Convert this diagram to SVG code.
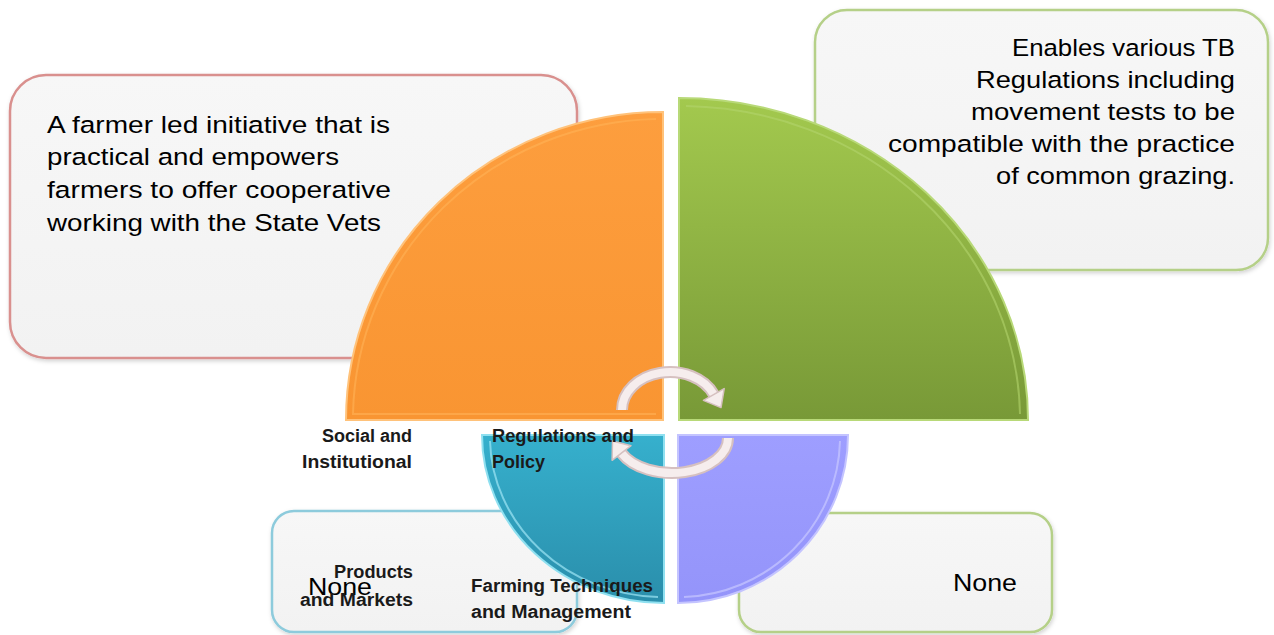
<svg xmlns="http://www.w3.org/2000/svg" width="1274" height="635" viewBox="0 0 1274 635">
<defs>
<linearGradient id="gBox" x1="0" y1="0" x2="0" y2="1"><stop offset="0" stop-color="#f7f7f7"/><stop offset="1" stop-color="#f2f2f2"/></linearGradient>
<linearGradient id="gOrange" x1="0" y1="0" x2="0" y2="1"><stop offset="0" stop-color="#fd9e3e"/><stop offset="1" stop-color="#f99532"/></linearGradient>
<linearGradient id="gGreen" x1="0" y1="0" x2="0" y2="1"><stop offset="0" stop-color="#a3c94e"/><stop offset="1" stop-color="#789937"/></linearGradient>
<linearGradient id="gBlue" x1="0" y1="0" x2="0" y2="1"><stop offset="0" stop-color="#36b0cd"/><stop offset="1" stop-color="#2a8eab"/></linearGradient>
<linearGradient id="gPurple" x1="0" y1="0" x2="0" y2="1"><stop offset="0" stop-color="#9e9eff"/><stop offset="1" stop-color="#9494fa"/></linearGradient>
<filter id="sh" x="-5%" y="-5%" width="110%" height="115%"><feDropShadow dx="1" dy="2" stdDeviation="2" flood-color="#000" flood-opacity="0.18"/></filter>
<style>
.box{fill:url(#gBox);stroke-width:2.5;filter:url(#sh)}
.txt{font-family:"Liberation Sans",Arial,sans-serif;font-size:24.5px;fill:#000}
.lbl{font-family:"Liberation Sans",Arial,sans-serif;font-size:18px;font-weight:bold;fill:#1a1a1a}
.arc{fill:none;stroke:#d6c0c0;stroke-width:12}
.arcIn{fill:none;stroke:#f6eded;stroke-width:8}
.head{fill:#f6eded;stroke:#d6c0c0;stroke-width:1.5;stroke-linejoin:round}
</style>
</defs>
<rect width="1274" height="635" fill="#ffffff"/>

<g id="box-social">
<rect class="box" x="10" y="75" width="567" height="283" rx="36" stroke="#d9908e"/>
<text class="txt" x="47" y="133" textLength="343" lengthAdjust="spacingAndGlyphs">A farmer led initiative that is</text>
<text class="txt" x="47" y="165" textLength="292" lengthAdjust="spacingAndGlyphs">practical and empowers</text>
<text class="txt" x="47" y="198" textLength="344" lengthAdjust="spacingAndGlyphs">farmers to offer cooperative</text>
<text class="txt" x="47" y="231" textLength="334" lengthAdjust="spacingAndGlyphs">working with the State Vets</text>
</g>

<g id="box-regulations">
<rect class="box" x="815" y="10" width="453" height="260" rx="32" stroke="#b5d088"/>
<text class="txt" x="1235" y="56" text-anchor="end" textLength="223" lengthAdjust="spacingAndGlyphs">Enables various TB</text>
<text class="txt" x="1235" y="88" text-anchor="end" textLength="259" lengthAdjust="spacingAndGlyphs">Regulations including</text>
<text class="txt" x="1235" y="120" text-anchor="end" textLength="264" lengthAdjust="spacingAndGlyphs">movement tests to be</text>
<text class="txt" x="1235" y="152" text-anchor="end" textLength="347" lengthAdjust="spacingAndGlyphs">compatible with the practice</text>
<text class="txt" x="1235" y="184" text-anchor="end" textLength="239" lengthAdjust="spacingAndGlyphs">of common grazing.</text>
</g>

<g id="box-products">
<rect class="box" x="272" y="511" width="305" height="121" rx="22" stroke="#8dcbdc"/>
<text class="txt" x="308" y="595" textLength="64" lengthAdjust="spacingAndGlyphs">None</text>
</g>

<g id="box-farming">
<rect class="box" x="739" y="513" width="313" height="119" rx="22" stroke="#b5d088"/>
<text class="txt" x="953" y="591" textLength="64" lengthAdjust="spacingAndGlyphs">None</text>
</g>

<g id="quarter-social">
<path d="M663 420 L346 420 A317 308 0 0 1 663 112 Z" fill="url(#gOrange)" stroke="#ffc27a" stroke-width="2"/>
<path d="M656 414 L353 414 A310 301 0 0 1 656 119" fill="none" stroke="#ffb257" stroke-width="2" opacity="0.6"/>
</g>
<g id="quarter-regulations">
<path d="M679 420 L679 98 A349 322 0 0 1 1028 420 Z" fill="url(#gGreen)" stroke="#b8d978" stroke-width="2"/>
<path d="M686 106 A341 314 0 0 1 1020 414" fill="none" stroke="#b3d46c" stroke-width="2" opacity="0.6"/>
</g>
<g id="quarter-farming">
<path d="M664 435 L664 603 A182 168 0 0 1 482 435 Z" fill="url(#gBlue)" stroke="#8fe0f0" stroke-width="2"/>
<path d="M490 441 A174 160 0 0 0 658 597" fill="none" stroke="#9ee6f5" stroke-width="2" opacity="0.7"/>
</g>
<g id="quarter-products">
<path d="M678 435 L848 435 A170 168 0 0 1 678 603 Z" fill="url(#gPurple)" stroke="#c4c4ff" stroke-width="2"/>
<path d="M840 441 A162 160 0 0 1 684 597" fill="none" stroke="#c8c8ff" stroke-width="2" opacity="0.7"/>
</g>

<g id="connectors">
<path class="arc" d="M622 410 A48 38 0 0 1 713.8 394.5"/>
<path class="arcIn" d="M622 410 A48 38 0 0 1 713.8 394.5"/>
<path class="head" d="M724.2 388.6 L721 407.6 L703.4 400.4 Z"/>
<path class="arc" d="M728 438 A56 35 0 0 1 621.6 453.3"/>
<path class="arcIn" d="M728 438 A56 35 0 0 1 621.6 453.3"/>
<path class="head" d="M631 445.7 L612.5 441 L612.1 460.3 Z"/>
</g>

<g id="labels">
<text class="lbl" x="412" y="442" text-anchor="end" textLength="90" lengthAdjust="spacingAndGlyphs">Social and</text>
<text class="lbl" x="412" y="468" text-anchor="end" textLength="110" lengthAdjust="spacingAndGlyphs">Institutional</text>
<text class="lbl" x="492" y="442" textLength="142" lengthAdjust="spacingAndGlyphs">Regulations and</text>
<text class="lbl" x="492" y="468" textLength="53" lengthAdjust="spacingAndGlyphs">Policy</text>
<text class="lbl" x="413" y="578" text-anchor="end" textLength="79" lengthAdjust="spacingAndGlyphs">Products</text>
<text class="lbl" x="413" y="606" text-anchor="end" textLength="113" lengthAdjust="spacingAndGlyphs">and Markets</text>
<text class="lbl" x="471" y="592" textLength="182" lengthAdjust="spacingAndGlyphs">Farming Techniques</text>
<text class="lbl" x="471" y="618" textLength="160" lengthAdjust="spacingAndGlyphs">and Management</text>
</g>
</svg>
